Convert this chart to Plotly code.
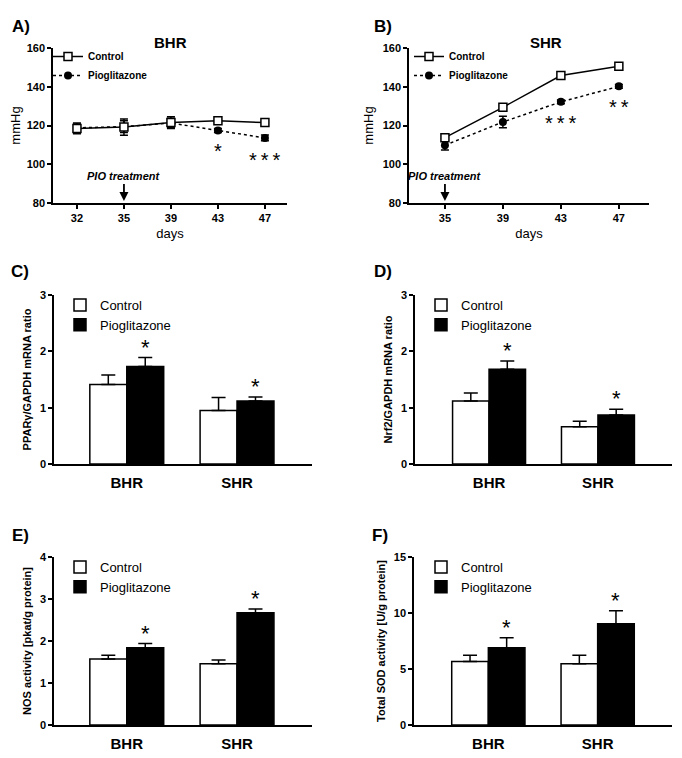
import plotly.graph_objects as go

W, H = 682, 758
PAD = 8  # the page body keeps its default 8 px margin
FW, FH = W - PAD, H - PAD
FONT = "Arial, Liberation Sans, sans-serif"

# ---- panel A: BHR blood pressure (mmHg) ----
days_a = ["32", "35", "39", "43", "47"]
bhr_ctrl = [118.5, 119.2, 121.5, 122.4, 121.5]
bhr_ctrl_err = [2.8, 4.2, 3.0, 1.0, 1.0]
bhr_pio = [118.8, 119.4, 121.3, 117.4, 113.6]
bhr_pio_err = [2.0, 3.0, 2.5, 1.0, 1.5]
bhr_stars = ["", "", "", "*", "***"]

# ---- panel B: SHR blood pressure (mmHg) ----
days_b = ["35", "39", "43", "47"]
shr_ctrl = [113.7, 129.4, 145.8, 150.6]
shr_ctrl_err = [1.5, 1.0, 1.0, 1.0]
shr_pio = [109.8, 121.8, 132.2, 140.2]
shr_pio_err = [2.5, 3.0, 1.0, 1.0]
shr_stars = ["", "", "***", "**"]

pio_start = "35"

# ---- panels C-F: bar charts ----
groups = ["BHR", "SHR"]

ppar_ctrl = [1.41, 0.95]
ppar_ctrl_err = [0.17, 0.23]
ppar_pio = [1.73, 1.12]
ppar_pio_err = [0.16, 0.07]

nrf2_ctrl = [1.12, 0.66]
nrf2_ctrl_err = [0.14, 0.10]
nrf2_pio = [1.68, 0.87]
nrf2_pio_err = [0.15, 0.10]

nos_ctrl = [1.57, 1.46]
nos_ctrl_err = [0.09, 0.09]
nos_pio = [1.84, 2.67]
nos_pio_err = [0.10, 0.09]

sod_ctrl = [5.66, 5.46]
sod_ctrl_err = [0.57, 0.77]
sod_pio = [6.90, 9.05]
sod_pio_err = [0.88, 1.15]

bar_stars = ["*", "*"]


def px(x):
    return (x - PAD) / FW


def py(y):
    return 1 - (y - PAD) / FH


def xd(x0, x1):
    return [px(x0), px(x1)]


def yd(top, bottom):
    return [py(bottom), py(top)]


def axis_style(**kw):
    d = dict(
        showline=True, linecolor="black", linewidth=1.5, mirror=False,
        showgrid=False, zeroline=False, ticks="outside", ticklen=4,
        tickwidth=1.5, tickcolor="black", automargin=False,
        tickfont=dict(family=FONT, size=11, color="black", weight="bold"),
    )
    d.update(kw)
    return d


def spaced(s):
    # GraphPad draws the significance stars with a little gap between them
    return "\u2009".join(s)


fig = go.Figure()

# line panels
line_panels = [
    ("x", "y", "legend", days_a, bhr_ctrl, bhr_ctrl_err, bhr_pio, bhr_pio_err, bhr_stars),
    ("x2", "y2", "legend2", days_b, shr_ctrl, shr_ctrl_err, shr_pio, shr_pio_err, shr_stars),
]
ann = []
for xa, ya, lg, days, c, ce, p, pe, stars in line_panels:
    fig.add_trace(go.Scatter(
        x=days, y=p, xaxis=xa, yaxis=ya, legend=lg, name="Pioglitazone",
        mode="lines+markers",
        line=dict(color="black", width=1.5, dash="3px,3px"),
        marker=dict(symbol="circle", size=8, color="black"),
        error_y=dict(type="data", array=pe, color="black", thickness=1.5, width=4),
    ))
    fig.add_trace(go.Scatter(
        x=days, y=c, xaxis=xa, yaxis=ya, legend=lg, name="Control",
        mode="lines+markers",
        line=dict(color="black", width=1.5),
        marker=dict(symbol="square", size=8, color="white", line=dict(color="black", width=1.5)),
        error_y=dict(type="data", array=ce, color="black", thickness=1.5, width=4),
    ))
    # category axes take annotation x as the category index
    for i, (v, e, s) in enumerate(zip(p, pe, stars)):
        if s:
            ann.append(dict(x=i, y=v - e, xref=xa, yref=ya, text=spaced(s), showarrow=False,
                            yanchor="top", yshift=-6,
                            font=dict(family=FONT, size=20, color="black")))
    ann.append(dict(x=days.index(pio_start), y=81, xref=xa, yref=ya,
                    text="<b><i>PIO treatment</i></b>",
                    showarrow=True, arrowhead=2, arrowsize=1, arrowwidth=1.8,
                    arrowcolor="black", ax=0, ay=-17, yanchor="bottom",
                    font=dict(family=FONT, size=11, color="black")))

# bar panels
bar_panels = [
    ("x3", "y3", "legend3", ppar_ctrl, ppar_ctrl_err, ppar_pio, ppar_pio_err),
    ("x4", "y4", "legend4", nrf2_ctrl, nrf2_ctrl_err, nrf2_pio, nrf2_pio_err),
    ("x5", "y5", "legend5", nos_ctrl, nos_ctrl_err, nos_pio, nos_pio_err),
    ("x6", "y6", "legend6", sod_ctrl, sod_ctrl_err, sod_pio, sod_pio_err),
]
bargap = 0.33
half = (1 - bargap) / 4
for xa, ya, lg, c, ce, p, pe in bar_panels:
    fig.add_trace(go.Bar(
        x=groups, y=c, xaxis=xa, yaxis=ya, legend=lg, name="Control",
        marker=dict(color="white", line=dict(color="black", width=1.5)),
        error_y=dict(type="data", symmetric=False, array=ce, arrayminus=[0] * len(ce),
                     color="black", thickness=1.5, width=7),
    ))
    fig.add_trace(go.Bar(
        x=groups, y=p, xaxis=xa, yaxis=ya, legend=lg, name="Pioglitazone",
        marker=dict(color="black", line=dict(color="black", width=1.5)),
        error_y=dict(type="data", symmetric=False, array=pe, arrayminus=[0] * len(pe),
                     color="black", thickness=1.5, width=7),
    ))
    for i, (v, e, s) in enumerate(zip(p, pe, bar_stars)):
        ann.append(dict(x=i + half, y=v + e, xref=xa, yref=ya, text=s, showarrow=False,
                        yanchor="bottom", yshift=-4,
                        font=dict(family=FONT, size=22, color="black")))

# panel letters and titles
for txt, x, y in [("A)", 21, 26), ("B)", 383, 26), ("C)", 20, 271),
                  ("D)", 383, 271), ("E)", 20, 535), ("F)", 380, 535)]:
    ann.append(dict(x=px(x), y=py(y), xref="paper", yref="paper", text=f"<b>{txt}</b>",
                    showarrow=False, xanchor="center", yanchor="middle",
                    font=dict(family=FONT, size=17, color="black")))
for txt, x in [("BHR", 170), ("SHR", 546)]:
    ann.append(dict(x=px(x), y=py(42), xref="paper", yref="paper", text=f"<b>{txt}</b>",
                    showarrow=False, xanchor="center", yanchor="middle",
                    font=dict(family=FONT, size=15, color="black")))

title_font = dict(family=FONT, size=13, color="black")
ytitle_font = dict(family=FONT, size=11, color="black", weight="bold")
cat_font = dict(family=FONT, size=15, color="black", weight="bold")

layout = dict(
    width=FW, height=FH, margin=dict(l=0, r=0, t=0, b=0),
    paper_bgcolor="white", plot_bgcolor="white",
    barmode="group", bargap=bargap, bargroupgap=0,
    hovermode=False, annotations=ann,
    xaxis=axis_style(domain=xd(53, 287), type="category", range=[-0.51, 4.47],
                     title=dict(text="days", font=title_font, standoff=6), anchor="y"),
    yaxis=axis_style(domain=yd(48, 203), range=[80, 160], tickvals=[80, 100, 120, 140, 160],
                     title=dict(text="mmHg", font=title_font, standoff=6), anchor="x"),
    xaxis2=axis_style(domain=xd(409, 649), type="category", range=[-0.62, 3.52],
                      title=dict(text="days", font=title_font, standoff=6), anchor="y2"),
    yaxis2=axis_style(domain=yd(48, 203), range=[80, 160], tickvals=[80, 100, 120, 140, 160],
                      title=dict(text="mmHg", font=title_font, standoff=6), anchor="x2"),
)

bar_axes = [
    ("3", xd(54, 312), [-0.66, 1.68], yd(295, 464), [0, 3], [0, 1, 2, 3], "PPARγ/GAPDH mRNA ratio"),
    ("4", xd(415, 672), [-0.68, 1.68], yd(295, 464), [0, 3], [0, 1, 2, 3], "Nrf2/GAPDH mRNA ratio"),
    ("5", xd(54, 312), [-0.66, 1.68], yd(557, 725), [0, 4], [0, 1, 2, 3, 4], "NOS activity [pkat/g protein]"),
    ("6", xd(414, 672), [-0.68, 1.68], yd(557, 725), [0, 15], [0, 5, 10, 15], "Total SOD activity [U/g protein]"),
]
for n, xdom, xr, ydom, yr, tv, ttl in bar_axes:
    layout["xaxis" + n] = axis_style(domain=xdom, type="category", range=xr, anchor="y" + n,
                                     ticks="", tickfont=cat_font, ticklabelstandoff=4)
    layout["yaxis" + n] = axis_style(domain=ydom, range=yr, tickvals=tv, anchor="x" + n,
                                     title=dict(text=ttl, font=ytitle_font, standoff=6))

line_leg_font = dict(family=FONT, size=10, color="black", weight="bold")
bar_leg_font = dict(family=FONT, size=13, color="black")
line_leg = dict(xanchor="left", yanchor="top", bgcolor="rgba(0,0,0,0)",
                traceorder="reversed", font=line_leg_font, itemwidth=30, tracegroupgap=0)
bar_leg = dict(xanchor="left", yanchor="top", bgcolor="rgba(0,0,0,0)",
               traceorder="normal", font=bar_leg_font)
layout["legend"] = dict(x=px(48), y=py(42), **line_leg)
layout["legend2"] = dict(x=px(409), y=py(42), **line_leg)
layout["legend3"] = dict(x=px(60), y=py(290), **bar_leg)
layout["legend4"] = dict(x=px(421), y=py(290), **bar_leg)
layout["legend5"] = dict(x=px(60), y=py(552), **bar_leg)
layout["legend6"] = dict(x=px(421), y=py(552), **bar_leg)

fig.update_layout(**layout)
fig.write_html("out.html")
